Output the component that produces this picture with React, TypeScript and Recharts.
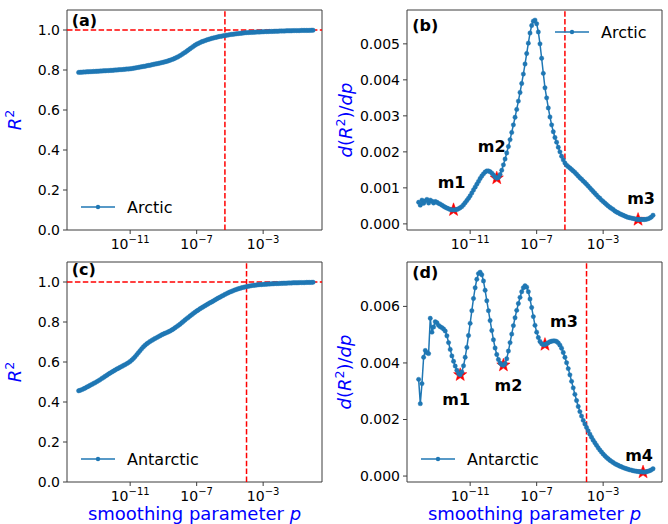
import { ComposedChart, Line, Scatter, XAxis, YAxis, ReferenceLine, ReferenceArea, Legend } from 'recharts';

// smoothing parameter, log10(p)
const logP = [
  -14.1, -14.0, -13.9, -13.8, -13.7, -13.6, -13.5, -13.4, -13.3, -13.2,
  -13.1, -13.0, -12.9, -12.8, -12.7, -12.6, -12.5, -12.4, -12.3, -12.2,
  -12.1, -12.0, -11.9, -11.8, -11.7, -11.6, -11.5, -11.4, -11.3, -11.2,
  -11.1, -11.0, -10.9, -10.8, -10.7, -10.6, -10.5, -10.4, -10.3, -10.2,
  -10.1, -10.0, -9.9, -9.8, -9.7, -9.6, -9.5, -9.4, -9.3, -9.2,
  -9.1, -9.0, -8.9, -8.8, -8.7, -8.6, -8.5, -8.4, -8.3, -8.2,
  -8.1, -8.0, -7.9, -7.8, -7.7, -7.6, -7.5, -7.4, -7.3, -7.2,
  -7.1, -7.0, -6.9, -6.8, -6.7, -6.6, -6.5, -6.4, -6.3, -6.2,
  -6.1, -6.0, -5.9, -5.8, -5.7, -5.6, -5.5, -5.4, -5.3, -5.2,
  -5.1, -5.0, -4.9, -4.8, -4.7, -4.6, -4.5, -4.4, -4.3, -4.2,
  -4.1, -4.0, -3.9, -3.8, -3.7, -3.6, -3.5, -3.4, -3.3, -3.2,
  -3.1, -3.0, -2.9, -2.8, -2.7, -2.6, -2.5, -2.4, -2.3, -2.2,
  -2.1, -2.0, -1.9, -1.8, -1.7, -1.6, -1.5, -1.4, -1.3, -1.2,
  -1.1, -1.0, -0.9, -0.8, -0.7, -0.6, -0.5, -0.4, -0.3, -0.2,
  -0.1, 0.0,
];

const r2Arctic = [
  0.788, 0.789, 0.789, 0.790, 0.790, 0.791, 0.791, 0.792, 0.792, 0.793,
  0.793, 0.794, 0.794, 0.795, 0.795, 0.796, 0.796, 0.797, 0.797, 0.798,
  0.798, 0.799, 0.800, 0.800, 0.801, 0.802, 0.802, 0.803, 0.804, 0.805,
  0.805, 0.806, 0.807, 0.809, 0.810, 0.812, 0.813, 0.815, 0.816, 0.818,
  0.819, 0.821, 0.823, 0.824, 0.826, 0.828, 0.830, 0.831, 0.833, 0.835,
  0.837, 0.839, 0.841, 0.843, 0.846, 0.849, 0.852, 0.855, 0.859, 0.863,
  0.867, 0.872, 0.877, 0.883, 0.888, 0.894, 0.900, 0.906, 0.912, 0.918,
  0.924, 0.929, 0.933, 0.937, 0.941, 0.944, 0.947, 0.950, 0.953, 0.955,
  0.958, 0.960, 0.962, 0.964, 0.966, 0.968, 0.969, 0.971, 0.972, 0.974,
  0.975, 0.977, 0.978, 0.979, 0.980, 0.981, 0.982, 0.983, 0.984, 0.985,
  0.986, 0.987, 0.987, 0.988, 0.988, 0.989, 0.989, 0.990, 0.990, 0.990,
  0.991, 0.991, 0.992, 0.992, 0.992, 0.993, 0.993, 0.993, 0.994, 0.994,
  0.994, 0.995, 0.995, 0.995, 0.995, 0.996, 0.996, 0.996, 0.996, 0.997,
  0.997, 0.997, 0.997, 0.997, 0.998, 0.998, 0.998, 0.998, 0.998, 0.998,
  0.999, 0.999,
];

const r2Antarctic = [
  0.456, 0.459, 0.462, 0.466, 0.470, 0.475, 0.479, 0.484, 0.488, 0.493,
  0.497, 0.502, 0.507, 0.512, 0.518, 0.523, 0.529, 0.534, 0.540, 0.545,
  0.550, 0.555, 0.560, 0.565, 0.569, 0.574, 0.578, 0.583, 0.587, 0.592,
  0.597, 0.603, 0.610, 0.618, 0.627, 0.637, 0.647, 0.657, 0.667, 0.676,
  0.684, 0.691, 0.697, 0.703, 0.708, 0.713, 0.718, 0.722, 0.727, 0.731,
  0.736, 0.740, 0.744, 0.747, 0.751, 0.755, 0.760, 0.765, 0.771, 0.777,
  0.783, 0.789, 0.796, 0.803, 0.810, 0.817, 0.823, 0.830, 0.836, 0.843,
  0.849, 0.855, 0.860, 0.866, 0.871, 0.876, 0.881, 0.886, 0.891, 0.896,
  0.900, 0.905, 0.910, 0.915, 0.920, 0.924, 0.929, 0.933, 0.938, 0.942,
  0.946, 0.950, 0.953, 0.957, 0.960, 0.963, 0.966, 0.968, 0.971, 0.973,
  0.975, 0.977, 0.979, 0.980, 0.982, 0.983, 0.984, 0.985, 0.986, 0.987,
  0.987, 0.988, 0.989, 0.989, 0.990, 0.990, 0.991, 0.991, 0.992, 0.992,
  0.992, 0.993, 0.993, 0.994, 0.994, 0.994, 0.995, 0.995, 0.995, 0.996,
  0.996, 0.996, 0.996, 0.997, 0.997, 0.997, 0.997, 0.998, 0.998, 0.998,
  0.998, 0.999,
];

const dR2Arctic = [
  0.60e-3, 0.52e-3, 0.66e-3, 0.57e-3, 0.64e-3, 0.68e-3, 0.58e-3, 0.66e-3, 0.63e-3, 0.58e-3,
  0.62e-3, 0.60e-3, 0.57e-3, 0.55e-3, 0.52e-3, 0.49e-3, 0.46e-3, 0.44e-3, 0.42e-3, 0.40e-3,
  0.39e-3, 0.39e-3, 0.39e-3, 0.40e-3, 0.42e-3, 0.45e-3, 0.48e-3, 0.53e-3, 0.59e-3, 0.65e-3,
  0.71e-3, 0.78e-3, 0.86e-3, 0.94e-3, 1.02e-3, 1.10e-3, 1.18e-3, 1.26e-3, 1.33e-3, 1.39e-3,
  1.44e-3, 1.47e-3, 1.47e-3, 1.45e-3, 1.41e-3, 1.36e-3, 1.30e-3, 1.27e-3, 1.29e-3, 1.37e-3,
  1.49e-3, 1.64e-3, 1.80e-3, 1.97e-3, 2.15e-3, 2.34e-3, 2.54e-3, 2.75e-3, 2.96e-3, 3.18e-3,
  3.41e-3, 3.65e-3, 3.90e-3, 4.16e-3, 4.44e-3, 4.73e-3, 5.02e-3, 5.30e-3, 5.51e-3, 5.63e-3,
  5.66e-3, 5.56e-3, 5.33e-3, 5.00e-3, 4.60e-3, 4.18e-3, 3.78e-3, 3.50e-3, 3.22e-3, 2.97e-3,
  2.75e-3, 2.56e-3, 2.40e-3, 2.27e-3, 2.13e-3, 2.00e-3, 1.88e-3, 1.78e-3, 1.69e-3, 1.63e-3,
  1.59e-3, 1.55e-3, 1.51e-3, 1.47e-3, 1.43e-3, 1.38e-3, 1.33e-3, 1.28e-3, 1.24e-3, 1.19e-3,
  1.15e-3, 1.10e-3, 1.05e-3, 1.00e-3, 0.95e-3, 0.90e-3, 0.85e-3, 0.80e-3, 0.75e-3, 0.71e-3,
  0.66e-3, 0.62e-3, 0.58e-3, 0.54e-3, 0.50e-3, 0.46e-3, 0.43e-3, 0.40e-3, 0.36e-3, 0.33e-3,
  0.31e-3, 0.28e-3, 0.26e-3, 0.24e-3, 0.22e-3, 0.20e-3, 0.18e-3, 0.17e-3, 0.16e-3, 0.15e-3,
  0.14e-3, 0.13e-3, 0.12e-3, 0.12e-3, 0.12e-3, 0.12e-3, 0.12e-3, 0.13e-3, 0.14e-3, 0.16e-3,
  0.19e-3, 0.24e-3,
];

const dR2Antarctic = [
  3.42e-3, 2.56e-3, 3.27e-3, 4.20e-3, 4.44e-3, 4.36e-3, 4.33e-3, 5.58e-3, 5.09e-3, 5.27e-3,
  5.46e-3, 5.42e-3, 5.33e-3, 5.28e-3, 5.25e-3, 5.20e-3, 5.13e-3, 4.96e-3, 4.72e-3, 4.48e-3,
  4.25e-3, 4.06e-3, 3.89e-3, 3.74e-3, 3.63e-3, 3.58e-3, 3.68e-3, 3.90e-3, 4.20e-3, 4.55e-3,
  4.97e-3, 5.40e-3, 5.85e-3, 6.28e-3, 6.66e-3, 6.96e-3, 7.16e-3, 7.21e-3, 7.12e-3, 6.90e-3,
  6.57e-3, 6.20e-3, 5.85e-3, 5.50e-3, 5.15e-3, 4.82e-3, 4.53e-3, 4.30e-3, 4.12e-3, 4.00e-3,
  3.94e-3, 3.92e-3, 3.98e-3, 4.15e-3, 4.42e-3, 4.72e-3, 5.02e-3, 5.32e-3, 5.60e-3, 5.86e-3,
  6.10e-3, 6.32e-3, 6.52e-3, 6.66e-3, 6.73e-3, 6.68e-3, 6.52e-3, 6.26e-3, 5.96e-3, 5.64e-3,
  5.33e-3, 5.09e-3, 4.90e-3, 4.76e-3, 4.68e-3, 4.64e-3, 4.65e-3, 4.68e-3, 4.72e-3, 4.75e-3,
  4.77e-3, 4.78e-3, 4.78e-3, 4.76e-3, 4.71e-3, 4.63e-3, 4.52e-3, 4.37e-3, 4.20e-3, 4.01e-3,
  3.80e-3, 3.58e-3, 3.35e-3, 3.12e-3, 2.89e-3, 2.67e-3, 2.46e-3, 2.28e-3, 2.12e-3, 1.97e-3,
  1.84e-3, 1.72e-3, 1.60e-3, 1.48e-3, 1.37e-3, 1.27e-3, 1.18e-3, 1.09e-3, 1.00e-3, 0.92e-3,
  0.85e-3, 0.78e-3, 0.72e-3, 0.66e-3, 0.61e-3, 0.56e-3, 0.52e-3, 0.48e-3, 0.44e-3, 0.41e-3,
  0.38e-3, 0.35e-3, 0.33e-3, 0.30e-3, 0.28e-3, 0.26e-3, 0.24e-3, 0.22e-3, 0.21e-3, 0.19e-3,
  0.18e-3, 0.17e-3, 0.16e-3, 0.15e-3, 0.15e-3, 0.14e-3, 0.14e-3, 0.15e-3, 0.17e-3, 0.19e-3,
  0.22e-3, 0.26e-3,
];

// marked minima
const minArcticP = [-12.0, -9.4, -0.9];
const minArcticV = [0.39e-3, 1.27e-3, 0.12e-3];
const minArcticNames = ['m1', 'm2', 'm3'];
const minAntarcticP = [-11.6, -9.0, -6.5, -0.6];
const minAntarcticV = [3.58e-3, 3.92e-3, 4.65e-3, 0.14e-3];
const minAntarcticNames = ['m1', 'm2', 'm3', 'm4'];

// chosen p (vertical dashed lines)
const cutoffArctic = -5.3;
const cutoffAntarctic = -4.0;

const xTicks = [-11, -7, -3];
const r2Ticks = [0, 0.2, 0.4, 0.6, 0.8, 1.0];
const dArcticTicks = [0, 0.001, 0.002, 0.003, 0.004, 0.005];
const dAntarcticTicks = [0, 0.002, 0.004, 0.006];

// label offsets from the star (px)
const arcticLabelOffsets = [[-2, -22], [-5, -26], [3, -16]];
const antarcticLabelOffsets = [[-4, 30], [5, 26], [19, -18], [-4, -11]];

const BLUE = '#1f77b4';
const FONT = 'DejaVu Sans';
const X_DOMAIN = [-14.8, 0.54];
const SPINE = '#3d3d3d';

const toPoints = (ys: number[]) => logP.map((x, i) => ({ x, y: ys[i] }));
const toStars = (ps: number[], vs: number[], names: string[], offs: number[][]) =>
  ps.map((x, i) => ({ x, y: vs[i], name: names[i], dx: offs[i][0], dy: offs[i][1] }));

function LogTick(props: any) {
  const { x, y, payload } = props;
  return (
    <text x={x} y={y + 13} textAnchor="middle" fontFamily={FONT} fontSize={14} fill="#000">
      10<tspan dy={-6} fontSize={10}>{'\u2212' + Math.abs(payload.value)}</tspan>
    </text>
  );
}

function Star(props: any) {
  const { cx, cy, payload } = props;
  const pts: string[] = [];
  for (let k = 0; k < 10; k++) {
    const r = k % 2 === 0 ? 7 : 2.9;
    const a = -Math.PI / 2 + (k * Math.PI) / 5;
    pts.push(`${cx + r * Math.cos(a)},${cy + r * Math.sin(a)}`);
  }
  return (
    <g>
      <polygon points={pts.join(' ')} fill="#ff0000" stroke="#ff0000" strokeWidth={0.5} />
      <text x={cx + payload.dx} y={cy + payload.dy} textAnchor="middle" fontFamily={FONT}
        fontWeight="bold" fontSize={16} fill="#000">{payload.name}</text>
    </g>
  );
}

const legendContent = (name: string) => () => (
  <svg width={120} height={20} style={{ display: 'block' }}>
    <line x1={0} y1={10} x2={34} y2={10} stroke={BLUE} strokeWidth={1.5} />
    <circle cx={17} cy={10} r={2.2} fill={BLUE} />
    <text x={46} y={15.6} fontFamily={FONT} fontSize={16} fill="#000">{name}</text>
  </svg>
);

interface PanelProps {
  left: number;
  top: number;
  height: number;
  marginRight: number;
  yAxisWidth: number;
  xAxisHeight: number;
  values: number[];
  yDomain: number[];
  yTicks: number[];
  digits: number;
  cutoff: number;
  showOne?: boolean;
  legendName: string;
  legendLeft: number;
  legendTop: number;
  stars?: any[];
}

function Panel(p: PanelProps) {
  return (
    <div style={{ position: 'absolute', left: p.left, top: p.top }}>
      <ComposedChart width={334} height={p.height}
        margin={{ top: 10, right: p.marginRight, bottom: 0, left: 0 }}>
        <XAxis type="number" dataKey="x" domain={X_DOMAIN} allowDataOverflow ticks={xTicks}
          tick={<LogTick />} axisLine={false} tickSize={4} tickMargin={2}
          tickLine={{ stroke: SPINE }} height={p.xAxisHeight} />
        <YAxis type="number" domain={p.yDomain} allowDataOverflow ticks={p.yTicks}
          tickFormatter={(v: number) => v.toFixed(p.digits)} width={p.yAxisWidth}
          tick={{ fontSize: 14, fill: '#000', fontFamily: FONT }} axisLine={false}
          tickSize={4} tickMargin={3} tickLine={{ stroke: SPINE }} />
        <Line data={toPoints(p.values)} dataKey="y" stroke={BLUE} strokeWidth={1.5}
          dot={{ r: 2.2, fill: BLUE, stroke: BLUE, strokeWidth: 0.4 }} activeDot={false}
          isAnimationActive={false} />
        {p.showOne && (
          <ReferenceLine y={1} stroke="#ff0000" strokeWidth={1.5} strokeDasharray="5.5 2.4" />
        )}
        <ReferenceLine x={p.cutoff} stroke="#ff0000" strokeWidth={1.5} strokeDasharray="5.5 2.4" />
        {p.stars && (
          <Scatter data={p.stars} dataKey="y" shape={<Star />} isAnimationActive={false} />
        )}
        <ReferenceArea x1={X_DOMAIN[0]} x2={X_DOMAIN[1]} y1={p.yDomain[0]} y2={p.yDomain[1]}
          fill="none" fillOpacity={0} stroke={SPINE} strokeWidth={1} />
        <Legend layout="horizontal" verticalAlign="middle" align="center"
          content={legendContent(p.legendName)}
          wrapperStyle={{ left: p.legendLeft, top: p.legendTop, width: 120, height: 20 }} />
      </ComposedChart>
    </div>
  );
}

export default function App() {
  const labelStyle = { fontFamily: FONT, fill: '#000' };
  return (
    <div style={{ position: 'relative', width: 668, height: 524, background: '#fff', overflow: 'hidden' }}>
      <style>{'body{margin:0}'}</style>
      <Panel left={0} top={0} height={262} marginRight={12} yAxisWidth={67} xAxisHeight={32}
        values={r2Arctic} yDomain={[0, 1.1]} yTicks={r2Ticks} digits={1}
        cutoff={cutoffArctic} showOne legendName="Arctic" legendLeft={81} legendTop={196.7} />
      <Panel left={334} top={0} height={262} marginRight={6} yAxisWidth={73} xAxisHeight={32}
        values={dR2Arctic} yDomain={[-0.00017, 0.00594]} yTicks={dArcticTicks} digits={3}
        cutoff={cutoffArctic} legendName="Arctic" legendLeft={221} legendTop={21.7}
        stars={toStars(minArcticP, minArcticV, minArcticNames, arcticLabelOffsets)} />
      <Panel left={0} top={252} height={272} marginRight={12} yAxisWidth={67} xAxisHeight={42}
        values={r2Antarctic} yDomain={[0, 1.1]} yTicks={r2Ticks} digits={1}
        cutoff={cutoffAntarctic} showOne legendName="Antarctic" legendLeft={81} legendTop={196.7} />
      <Panel left={334} top={252} height={272} marginRight={6} yAxisWidth={73} xAxisHeight={42}
        values={dR2Antarctic} yDomain={[-0.00021, 0.00757]} yTicks={dAntarcticTicks} digits={3}
        cutoff={cutoffAntarctic} legendName="Antarctic" legendLeft={87.3} legendTop={196.7}
        stars={toStars(minAntarcticP, minAntarcticV, minAntarcticNames, antarcticLabelOffsets)} />

      <svg width={668} height={524} style={{ position: 'absolute', left: 0, top: 0, pointerEvents: 'none' }}>
        <g {...labelStyle} fontWeight="bold" fontSize={16}>
          <text x={71.7} y={26}>(a)</text>
          <text x={412.3} y={31}>(b)</text>
          <text x={71.7} y={275}>(c)</text>
          <text x={412.3} y={278}>(d)</text>
        </g>
        <g fontFamily={FONT} fill="#0000ff" fontSize={18}>
          <text transform="translate(14.5,120) rotate(-90)" textAnchor="middle" dy="0.36em">
            <tspan fontStyle="italic">R</tspan><tspan dy={-7} fontSize={12.6}>2</tspan>
          </text>
          <text transform="translate(14.5,372) rotate(-90)" textAnchor="middle" dy="0.36em">
            <tspan fontStyle="italic">R</tspan><tspan dy={-7} fontSize={12.6}>2</tspan>
          </text>
          <text transform="translate(345.5,120) rotate(-90)" textAnchor="middle" dy="0.36em">
            <tspan fontStyle="italic">d</tspan>(<tspan fontStyle="italic">R</tspan>
            <tspan dy={-7} fontSize={12.6}>2</tspan><tspan dy={7}>)/</tspan>
            <tspan fontStyle="italic">dp</tspan>
          </text>
          <text transform="translate(345,372) rotate(-90)" textAnchor="middle" dy="0.36em">
            <tspan fontStyle="italic">d</tspan>(<tspan fontStyle="italic">R</tspan>
            <tspan dy={-7} fontSize={12.6}>2</tspan><tspan dy={7}>)/</tspan>
            <tspan fontStyle="italic">dp</tspan>
          </text>
          <text x={194.5} y={519.5} textAnchor="middle">
            smoothing parameter <tspan fontStyle="italic">p</tspan>
          </text>
          <text x={534.5} y={519.5} textAnchor="middle">
            smoothing parameter <tspan fontStyle="italic">p</tspan>
          </text>
        </g>
      </svg>
    </div>
  );
}
